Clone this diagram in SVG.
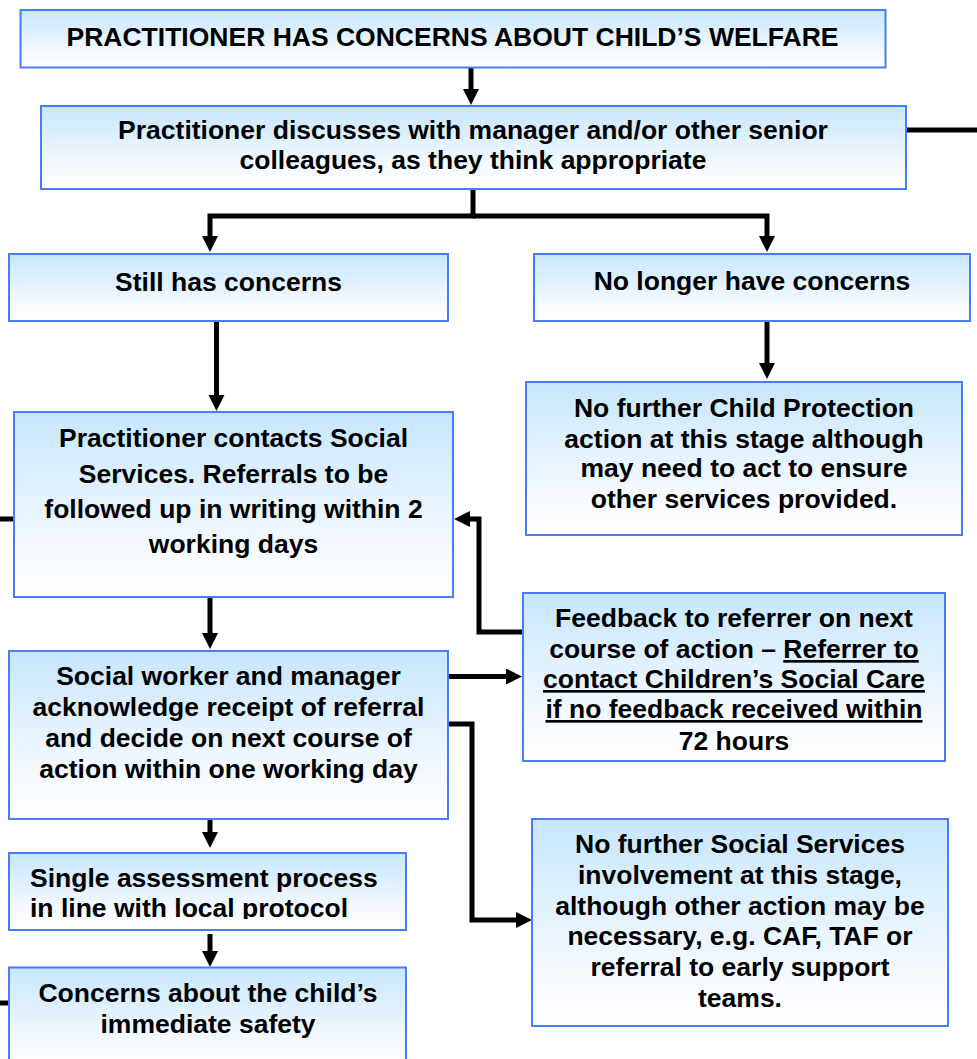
<svg xmlns="http://www.w3.org/2000/svg" width="977" height="1059" viewBox="0 0 977 1059">
<defs>
<linearGradient id="g" x1="0" y1="0" x2="0" y2="1">
<stop offset="0" stop-color="#c6e6fc"/>
<stop offset="0.75" stop-color="#f6faff"/>
<stop offset="1" stop-color="#ffffff"/>
</linearGradient>
<marker id="ah" markerUnits="userSpaceOnUse" markerWidth="17" markerHeight="17" refX="1" refY="8" orient="auto">
<path d="M0,0 L16,8 L0,16 z" fill="#000"/>
</marker>
<clipPath id="c9"><rect x="9" y="853" width="397" height="66"/></clipPath>
</defs>
<style>
.box{fill:url(#g);stroke:#4a7cf6;stroke-width:2}
.t{font-family:"Liberation Sans",Arial,sans-serif;font-weight:bold;font-size:26.5px;fill:#000;text-anchor:middle}
.l{text-anchor:start}
.u{text-decoration:underline}
.c{fill:none;stroke:#000;stroke-width:5;stroke-linejoin:miter}
.a{marker-end:url(#ah)}
</style>
<g id="connectors">
<path class="c a" d="M471,67.5 V90"/>
<path class="c a" d="M473,189 V216 H210 V237"/>
<path class="c a" d="M473,216 H767 V237"/>
<path class="c" d="M906,130 H977"/>
<path class="c a" d="M216.5,321 V396"/>
<path class="c a" d="M767,321 V364"/>
<path class="c a" d="M210,597 V634"/>
<path class="c a" d="M448,676.5 H507"/>
<path class="c a" d="M523,632 H479 V519 H469"/>
<path class="c a" d="M448,724 H472 V920 H517"/>
<path class="c a" d="M210,819 V833"/>
<path class="c a" d="M210,934 V952"/>
<path class="c" d="M0,519 H14"/>
<path class="c" d="M0,1003 H9"/>
</g>
<g id="n1">
<rect class="box" x="20.5" y="10" width="865" height="57.5"/>
<text class="t" x="452.5" y="46">PRACTITIONER HAS CONCERNS ABOUT CHILD’S WELFARE</text>
</g>
<g id="n2">
<rect class="box" x="41" y="106" width="865" height="83"/>
<text class="t" x="473" y="139">Practitioner discusses with manager and/or other senior</text>
<text class="t" x="473" y="169">colleagues, as they think appropriate</text>
</g>
<g id="n3">
<rect class="box" x="9" y="254" width="439" height="67"/>
<text class="t" x="228.5" y="290.5">Still has concerns</text>
</g>
<g id="n4">
<rect class="box" x="534" y="254" width="436" height="67"/>
<text class="t" x="752" y="289.5">No longer have concerns</text>
</g>
<g id="n5">
<rect class="box" x="14" y="412" width="439" height="185"/>
<text class="t" x="233.5" y="447">Practitioner contacts Social</text>
<text class="t" x="233.5" y="483">Services. Referrals to be</text>
<text class="t" x="233.5" y="518">followed up in writing within 2</text>
<text class="t" x="233.5" y="553">working days</text>
</g>
<g id="n6">
<rect class="box" x="526" y="382" width="436" height="153"/>
<text class="t" x="744" y="417">No further Child Protection</text>
<text class="t" x="744" y="448">action at this stage although</text>
<text class="t" x="744" y="477">may need to act to ensure</text>
<text class="t" x="744" y="508">other services provided.</text>
</g>
<g id="n7">
<rect class="box" x="523" y="593" width="422" height="168"/>
<text class="t" x="734" y="627">Feedback to referrer on next</text>
<text class="t" x="734" y="658">course of action – <tspan class="u">Referrer to</tspan></text>
<text class="t u" x="734" y="688">contact Children’s Social Care</text>
<text class="t u" x="734" y="718">if no feedback received within</text>
<text class="t" x="734" y="750">72 hours</text>
</g>
<g id="n8">
<rect class="box" x="9" y="651" width="439" height="168"/>
<text class="t" x="228.5" y="685">Social worker and manager</text>
<text class="t" x="228.5" y="716">acknowledge receipt of referral</text>
<text class="t" x="228.5" y="747">and decide on next course of</text>
<text class="t" x="228.5" y="778">action within one working day</text>
</g>
<g id="n9">
<rect class="box" x="532" y="819" width="416" height="207"/>
<text class="t" x="740" y="853">No further Social Services</text>
<text class="t" x="740" y="884">involvement at this stage,</text>
<text class="t" x="740" y="915">although other action may be</text>
<text class="t" x="740" y="945">necessary, e.g. CAF, TAF or</text>
<text class="t" x="740" y="976">referral to early support</text>
<text class="t" x="740" y="1007">teams.</text>
</g>
<g id="n10">
<rect class="box" x="9" y="853" width="397" height="77"/>
<g clip-path="url(#c9)">
<text class="t l" x="30" y="887">Single assessment process</text>
<text class="t l" x="30" y="917">in line with local protocol</text>
</g>
</g>
<g id="n11">
<rect class="box" x="9" y="967.5" width="397" height="100"/>
<text class="t" x="208" y="1002">Concerns about the child’s</text>
<text class="t" x="208" y="1033">immediate safety</text>
</g>
</svg>
